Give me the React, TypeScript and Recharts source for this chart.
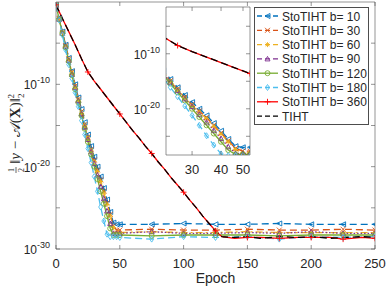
import React from "react";
import { LineChart, Line, XAxis, YAxis, CartesianGrid } from "recharts";

// values are log10 of 1/2||y - A(X)||^2
const stoEpochs = [0, 2.5, 5, 7.5, 10, 12.5, 15, 17.5, 20, 22.5, 25, 27.5, 30, 32.5, 35, 37.5, 40, 42.5, 45, 47.5, 50, 75, 100, 125, 150, 175, 200, 225, 250];
const b10 = [-0.35, -2.0, -3.6, -5.2, -6.8, -8.4, -10.0, -11.6, -13.0, -14.6, -16.1, -17.5, -18.8, -20.0, -21.2, -22.6, -24.0, -25.5, -26.8, -27.0, -27.0, -27.0, -26.9, -27.0, -27.0, -26.9, -27.0, -27.0, -27.0];
const b30 = [-0.35, -2.0, -3.7, -5.3, -6.9, -8.5, -10.2, -11.8, -13.3, -14.9, -16.4, -17.9, -19.2, -20.4, -21.6, -23.0, -24.4, -25.8, -27.2, -27.7, -27.7, -27.6, -27.7, -27.7, -27.6, -27.7, -27.7, -27.6, -27.7];
const b60 = [-0.35, -2.1, -3.7, -5.4, -7.0, -8.6, -10.3, -11.9, -13.5, -15.0, -16.5, -18.0, -19.4, -20.6, -21.8, -23.2, -24.6, -26.0, -27.4, -28.0, -28.0, -27.9, -28.0, -28.0, -27.9, -28.0, -28.0, -28.0, -28.0];
const b90 = [-0.35, -2.1, -3.8, -5.4, -7.1, -8.8, -10.4, -12.0, -13.6, -15.2, -16.7, -18.2, -19.6, -21.0, -22.4, -23.9, -25.4, -26.9, -28.1, -28.1, -28.1, -27.9, -28.1, -28.1, -28.0, -28.1, -27.9, -28.1, -28.1];
const b120 = [-0.35, -2.1, -3.8, -5.5, -7.2, -8.9, -10.6, -12.2, -13.8, -15.4, -17.0, -18.5, -20.0, -21.5, -23.0, -24.5, -26.0, -27.5, -28.3, -28.3, -28.3, -28.4, -28.3, -28.3, -28.3, -28.4, -28.3, -28.3, -28.3];
const b180 = [-0.35, -2.2, -4.0, -5.8, -7.6, -9.3, -11.0, -12.7, -14.4, -16.1, -17.8, -19.5, -21.2, -23.0, -24.9, -26.6, -28.2, -28.5, -28.5, -28.5, -28.6, -28.8, -28.5, -28.6, -28.5, -28.8, -28.5, -28.6, -28.5];

const tihtEpochs = [0, 5, 10, 15, 20, 25, 30, 35, 40, 45, 50, 55, 60, 65, 70, 75, 80, 85, 90, 95, 100, 105, 110, 115, 120, 125, 130, 140, 150, 160, 175, 190, 200, 215, 225, 240, 250];
const b360 = [-0.35, -2.0, -3.6, -5.2, -6.9, -8.5, -9.6, -10.6, -11.6, -12.6, -13.6, -14.6, -15.6, -16.5, -17.5, -18.4, -19.4, -20.3, -21.3, -22.2, -23.1, -24.1, -25.0, -26.0, -26.9, -27.8, -28.5, -28.7, -28.6, -28.6, -28.7, -28.6, -28.6, -28.6, -28.8, -28.6, -28.7];
const tiht = [-0.35, -2.0, -3.6, -5.2, -6.9, -8.5, -9.6, -10.6, -11.6, -12.6, -13.6, -14.6, -15.6, -16.5, -17.5, -18.4, -19.4, -20.3, -21.3, -22.2, -23.1, -24.1, -25.0, -26.0, -26.9, -27.8, -28.5, -28.6, -28.5, -28.7, -28.5, -28.6, -28.5, -28.7, -28.6, -28.5, -28.6];

const xTicks = [0, 50, 100, 150, 200, 250];
const yTicks = [-30, -25, -20, -15, -10, -5];
const insetXTicks = [30, 40, 50];
const insetYTicks = [-25, -20, -15, -10, -5];

const legendLabels = [
  "StoTIHT b= 10",
  "StoTIHT b= 30",
  "StoTIHT b= 60",
  "StoTIHT b= 90",
  "StoTIHT b= 120",
  "StoTIHT b= 180",
  "StoTIHT b= 360",
  "TIHT",
];

const stoRows = stoEpochs.map((epoch, i) => ({
  epoch,
  b10: b10[i],
  b30: b30[i],
  b60: b60[i],
  b90: b90[i],
  b120: b120[i],
  b180: b180[i],
}));
const tihtRows = tihtEpochs.map((epoch, i) => ({ epoch, b360: b360[i], tiht: tiht[i] }));

type Series = {
  key: string;
  name: string;
  color: string;
  dash?: string;
  marker?: string;
  rows: any[];
  every?: number;
};

const series: Series[] = [
  { key: "b10", name: legendLabels[0], color: "#0072BD", dash: "7 4", marker: "<", rows: stoRows },
  { key: "b30", name: legendLabels[1], color: "#D95319", dash: "7 4", marker: "x", rows: stoRows },
  { key: "b60", name: legendLabels[2], color: "#EDB120", dash: "7 3 2 3", marker: "*", rows: stoRows },
  { key: "b90", name: legendLabels[3], color: "#7E2F8E", dash: "1.5 2", marker: "^", rows: stoRows },
  { key: "b120", name: legendLabels[4], color: "#77AC30", marker: "o", rows: stoRows },
  { key: "b180", name: legendLabels[5], color: "#4DBEEE", dash: "7 4", marker: "d", rows: stoRows },
  { key: "b360", name: legendLabels[6], color: "#FF0000", marker: "+", rows: tihtRows, every: 25 },
  { key: "tiht", name: legendLabels[7], color: "#000000", dash: "7 4", rows: tihtRows },
];

const FONT = "'Liberation Sans', Arial, sans-serif";
const AXIS = "#4d4d4d";
const TXT = "#262626";

const Marker = ({ shape, cx, cy, color }: { shape?: string; cx: number; cy: number; color: string }) => {
  const s = 2.5;
  const st = { stroke: color, strokeWidth: 0.9, fill: "none" };
  switch (shape) {
    case "<":
      return <polygon points={`${cx - s},${cy} ${cx + s},${cy - s} ${cx + s},${cy + s}`} {...st} />;
    case "x":
      return <path d={`M${cx - s},${cy - s}L${cx + s},${cy + s}M${cx - s},${cy + s}L${cx + s},${cy - s}`} {...st} />;
    case "*":
      return (
        <path
          d={`M${cx - s},${cy}L${cx + s},${cy}M${cx},${cy - s}L${cx},${cy + s}M${cx - 1.8},${cy - 1.8}L${cx + 1.8},${cy + 1.8}M${cx - 1.8},${cy + 1.8}L${cx + 1.8},${cy - 1.8}`}
          {...st}
        />
      );
    case "^":
      return <polygon points={`${cx},${cy - s} ${cx + s},${cy + s * 0.8} ${cx - s},${cy + s * 0.8}`} {...st} />;
    case "o":
      return <circle cx={cx} cy={cy} r={s} {...st} />;
    case "d":
      return <polygon points={`${cx},${cy - s - 0.5} ${cx + s - 0.5},${cy} ${cx},${cy + s + 0.5} ${cx - s + 0.5},${cy}`} {...st} />;
    case "+":
      return <path d={`M${cx - s - 0.5},${cy}L${cx + s + 0.5},${cy}M${cx},${cy - s - 0.5}L${cx},${cy + s + 0.5}`} {...st} />;
  }
  return null;
};

const makeDot = (s: Series, tag: string) => (p: any) => {
  const k = `${tag}-${s.key}-${p.index}`;
  if (!s.marker || (s.every && p.payload.epoch % s.every !== 0)) return <g key={k} />;
  return (
    <g key={k}>
      <Marker shape={s.marker} cx={p.cx} cy={p.cy} color={s.color} />
    </g>
  );
};

const Pow = ({ x, y, v, anchor }: { x: number; y: number; v: number; anchor: string }) => (
  <text x={x} y={y} textAnchor={anchor as any} fontSize={12} fill={TXT} fontFamily={FONT}>
    10
    <tspan dy={-6} fontSize={9}>
      {v}
    </tspan>
  </text>
);

// tick renderers: inward tick marks like the original
const xTick = (axisY: number, dir: number, label: boolean) => (p: any) => (
  <g>
    <line x1={p.x} x2={p.x} y1={axisY} y2={axisY + dir * 4} stroke={AXIS} strokeWidth={0.6} />
    {label && (
      <text x={p.x} y={axisY + 19} textAnchor="middle" fontSize={13} fill={TXT} fontFamily={FONT}>
        {p.payload.value}
      </text>
    )}
  </g>
);

const yTick = (axisX: number, dir: number, label: boolean) => (p: any) => (
  <g>
    <line x1={axisX} x2={axisX + dir * 4} y1={p.y} y2={p.y} stroke={AXIS} strokeWidth={0.6} />
    {label && p.payload.value % 10 === 0 && <Pow x={axisX - 6} y={p.y + 5} v={p.payload.value} anchor="end" />}
  </g>
);

const axisLine = { stroke: AXIS, strokeWidth: 0.6 };

// main plot box: x 56..375, y 2..249
const PL = 56, PR = 375, PT = 2, PB = 249;
// inset box inside its own svg (svg placed at 126,5): x 40..124, y 2..150
const IL = 40, IR = 124, IT = 2, IB = 150;

const YLabel = () => (
  <svg width={30} height={290} style={{ position: "fixed", left: 0, top: 0 }}>
    <g transform="translate(16,117) rotate(-90)" fill={TXT} fontFamily="'Liberation Serif', 'DejaVu Serif', serif">
      <text x={-53} y={-2} fontSize={8} textAnchor="middle">1</text>
      <line x1={-56} x2={-50} y1={0} y2={0} stroke={TXT} strokeWidth={0.7} />
      <text x={-53} y={8} fontSize={8} textAnchor="middle">2</text>
      <text x={-47} y={4} fontSize={15}>
        {"\u2016"}
        <tspan fontStyle="italic">y</tspan>
        {" \u2212 "}
        {"\uD835\uDC9C"}(<tspan fontWeight="bold">X</tspan>){"\u2016"}
        <tspan dy={4} fontSize={9}>2</tspan>
        <tspan dx={-5} dy={-10} fontSize={9}>2</tspan>
      </text>
    </g>
  </svg>
);

const LegendBox = () => (
  <div
    style={{
      position: "fixed",
      left: 254,
      top: 7,
      width: 115,
      height: 118,
      border: `1px solid ${AXIS}`,
      background: "#fff",
      boxSizing: "border-box",
    }}
  >
    <svg width={115} height={118} style={{ position: "absolute", left: -1, top: -1 }}>
      {series.map((s, i) => {
        const y = 9 + i * 14.3;
        return (
          <g key={s.key}>
            <line x1={3} x2={24} y1={y} y2={y} stroke={s.color} strokeWidth={1.3} strokeDasharray={s.dash ? "5 3" : undefined} />
            {s.marker && <Marker shape={s.marker} cx={13.5} cy={y} color={s.color} />}
            <text x={28} y={y + 4.5} fontSize={12} fill={TXT} fontFamily={FONT}>
              {s.name}
            </text>
          </g>
        );
      })}
    </svg>
  </div>
);

const renderLines = (tag: string) =>
  series.map((s) => (
    <Line
      key={`${tag}-${s.key}`}
      data={s.rows}
      dataKey={s.key}
      name={s.name}
      xAxisId="b"
      yAxisId="l"
      type="linear"
      stroke={s.color}
      strokeWidth={1.3}
      strokeDasharray={s.dash}
      dot={makeDot(s, tag)}
      activeDot={false}
      isAnimationActive={false}
    />
  ));

export default function App() {
  return (
    <div style={{ position: "fixed", left: 0, top: 0, width: 388, height: 290, background: "#fff" }}>
      <LineChart width={388} height={290} margin={{ top: 0, right: 0, bottom: 0, left: 0 }}>
        <XAxis
          xAxisId="b"
          type="number"
          dataKey="epoch"
          domain={[0, 250]}
          ticks={xTicks}
          height={41}
          allowDataOverflow
          tickLine={false}
          axisLine={axisLine}
          tick={xTick(PB, -1, true)}
          label={{ value: "Epoch", position: "insideBottom", offset: 7, fontSize: 14, fill: TXT, fontFamily: FONT }}
        />
        <XAxis
          xAxisId="t"
          orientation="top"
          type="number"
          dataKey="epoch"
          domain={[0, 250]}
          ticks={xTicks}
          height={2}
          allowDataOverflow
          tickLine={false}
          axisLine={axisLine}
          tick={xTick(PT, 1, false)}
        />
        <YAxis
          yAxisId="l"
          type="number"
          domain={[-30, 0]}
          ticks={yTicks}
          width={56}
          allowDataOverflow
          tickLine={false}
          axisLine={axisLine}
          tick={yTick(PL, 1, true)}
        />
        <YAxis
          yAxisId="r"
          orientation="right"
          type="number"
          domain={[-30, 0]}
          ticks={yTicks}
          width={13}
          allowDataOverflow
          tickLine={false}
          axisLine={axisLine}
          tick={yTick(PR, -1, false)}
        />
        {renderLines("m")}
      </LineChart>

      <div style={{ position: "fixed", left: 126, top: 5 }}>
        <LineChart width={125} height={175} margin={{ top: 0, right: 0, bottom: 0, left: 0 }}>
          <CartesianGrid xAxisId="b" yAxisId="l" horizontal={false} vertical={false} fill="#fff" />
          <XAxis
            xAxisId="b"
            type="number"
            dataKey="epoch"
            domain={[21, 50]}
            ticks={insetXTicks}
            height={25}
            allowDataOverflow
            tickLine={false}
            axisLine={axisLine}
            tick={xTick(IB, -1, true)}
          />
          <XAxis
            xAxisId="t"
            orientation="top"
            type="number"
            dataKey="epoch"
            domain={[21, 50]}
            ticks={insetXTicks}
            height={2}
            allowDataOverflow
            tickLine={false}
            axisLine={axisLine}
            tick={xTick(IT, 1, false)}
          />
          <YAxis
            yAxisId="l"
            type="number"
            domain={[-28.4, -1.5]}
            ticks={insetYTicks}
            width={40}
            allowDataOverflow
            tickLine={false}
            axisLine={axisLine}
            tick={yTick(IL, 1, true)}
          />
          <YAxis
            yAxisId="r"
            orientation="right"
            type="number"
            domain={[-28.4, -1.5]}
            ticks={insetYTicks}
            width={1}
            allowDataOverflow
            tickLine={false}
            axisLine={axisLine}
            tick={yTick(IR, -1, false)}
          />
          {renderLines("i")}
        </LineChart>
      </div>

      <YLabel />
      <LegendBox />
    </div>
  );
}
